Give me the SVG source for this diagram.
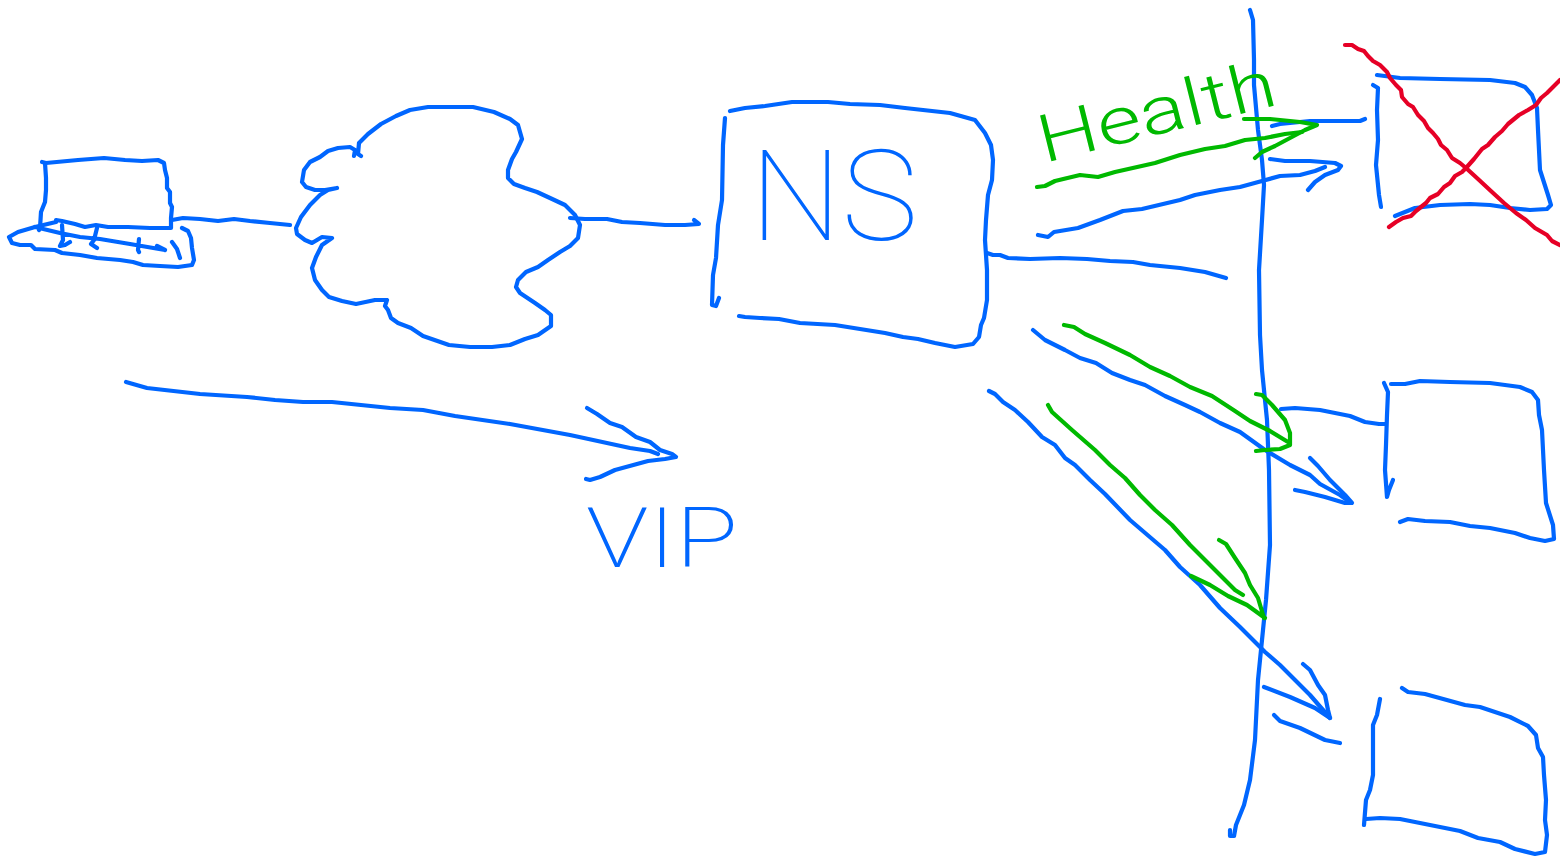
<svg xmlns="http://www.w3.org/2000/svg" width="1560" height="857" viewBox="0 0 1560 857">
<style>
path{fill:none;stroke-width:4.2;stroke-linecap:round;stroke-linejoin:round}
.b{stroke:#0066ff}.g{stroke:#00b900}.r{stroke:#e60026}
text{font-family:"Roboto","Liberation Sans",sans-serif}
</style>
<rect width="1560" height="857" fill="#fff"/>
<g id="laptop" class="b">
<path class="b" d="M42 162L46 163L78 160L104 158L125 160L142 161L158 160L164 163L165 170L167 178L167 188L170 192L170 203L172 207L171 218L171 228L150 228L128 227L108 227L96 225L85 227L75 224L62 221L56 220"/>
<path class="b" d="M45 163L46 178L46 190L45 202L41 212L40 228L39 230"/>
<path class="b" d="M56 222L35 227L18 232L9 237L12 243L20 245L31 245L35 249L55 250L62 253L80 255L97 258L120 260L133 262L143 265L160 266L178 267L192 265L194 260L192 248L191 238L188 231L182 228"/>
<path class="b" d="M35 227L60 233L80 237L100 239L130 244L165 250M62 225L63 240L60 246L65 245L70 242M97 228L94 240L91 244L97 248M139 239L138 250L139 252M157 246L165 250M172 242L177 249L180 258"/>
</g>
<g id="cloud">
<path class="b" d="M337 188L325 190L315 190L306 187L302 182L304 170L310 162L320 157L328 151L338 148L350 147L355 150L354 156M361 156L358 154L359 143L368 134L381 124L396 116L410 110L428 107L473 107L494 112L510 119L518 125L522 139L516 152L512 159L508 170L508 178L514 184L525 188L537 192L550 198L565 205L575 215L580 225L578 238L570 246L560 252L548 260L538 267L526 272L518 280L516 287L520 293L535 303L545 310L551 315L551 326L538 335L525 339L510 345L492 347L470 347L449 345L423 336L411 328L398 323L391 318L388 310L385 306L387 300L375 300L356 304L342 301L329 297L322 290L315 280L312 268L316 257L322 245L332 238L322 237L312 243L305 240L297 234L296 228L301 217L310 205L320 195L328 190L337 188"/>
</g>
<g id="ns">
<path class="b" d="M730 111L745 108L765 106L792 102L828 102L850 104L880 105L905 108L950 113L975 120L985 133L991 145L993 160L992 180L988 195L986 220L985 240L987 270L987 300L984 318L981 325L979 337L973 344L955 347L935 343L918 339L903 337L885 333L860 329L835 325L800 323L779 319L760 318L745 317L739 316"/>
<path class="b" d="M725 118L723 145L722 200L718 225L716 258L713 275L712 305L716 306L719 298"/>
<text x="750" y="240" font-size="126" font-weight="100" fill="#0066ff" textLength="168" lengthAdjust="spacingAndGlyphs">NS</text>
</g>
<g id="server-down">
<path class="b" d="M1377 75L1400 78L1440 79L1490 80L1515 83L1525 87L1532 95L1537 108L1538 130L1540 170L1548 195L1551 205L1547 209L1530 210L1510 208L1490 205L1470 204L1440 205L1415 208L1405 212L1395 216"/>
<path class="b" d="M1373 85L1378 88L1377 110L1378 140L1376 165L1379 195L1381 207"/>
<path class="r" d="M1345 45L1352 45L1358 49L1364 51L1368 56L1373 61L1380 65L1387 72L1390 78L1396 85L1401 90L1402 97L1408 104L1413 107L1418 115L1424 121L1428 128L1433 133L1438 139L1441 145L1447 150L1452 158L1460 163L1466 168L1478 179L1492 192L1504 203L1516 213L1526 220L1535 228L1547 235L1552 241L1560 245"/>
<path class="r" d="M1389 227L1396 222L1403 218L1411 216L1416 211L1426 203L1430 198L1438 194L1444 187L1450 183L1455 176L1462 172L1466 168L1474 159L1482 149L1488 145L1495 137L1502 131L1508 124L1519 115L1528 110L1536 105L1541 98L1547 93L1553 87L1560 80"/>
</g>
<g id="server-2">
<path class="b" d="M1384 383L1388 392L1387 415L1386 445L1385 470L1387 497L1389 490L1393 480"/>
<path class="b" d="M1391 384L1405 384L1420 381L1450 382L1490 383L1520 387L1532 392L1538 400L1539 415L1542 430L1544 470L1546 503L1553 525L1554 539L1545 541L1530 538L1515 533L1490 528L1470 526L1450 522L1425 521L1408 519L1400 522"/>
</g>
<g id="server-3">
<path class="b" d="M1380 699L1377 715L1373 725L1373 750L1373 775L1370 790L1366 800L1364 825"/>
<path class="b" d="M1402 688L1408 692L1425 694L1465 705L1480 707L1510 717L1528 726L1536 735L1538 748L1543 757L1544 775L1546 800L1545 820L1547 835L1545 852L1535 854L1515 849L1500 842L1478 838L1460 831L1430 825L1400 819L1380 818L1366 819"/>
</g>
<g id="connectors">
<path class="b" d="M172 220L183 218L200 219L218 221L234 219L250 221L270 223L290 225"/>
<path class="b" d="M570 218L585 219L607 219L622 222L640 223L665 225L685 225L699 224L694 220"/>
<path class="b" d="M126 382L147 388L200 394L247 397L275 400L303 402L332 402L390 408L423 410L455 416L510 424L570 435L630 448L650 451L658 454"/>
<path class="b" d="M587 408L597 414L610 423L622 427L636 437L650 442L660 450L672 454L676 457L665 459L648 461L615 470L600 477L590 480L586 479"/>
<path class="b" d="M1250 10L1253 20L1254 60L1254 85L1258 130L1262 160L1264 185L1262 220L1259 270L1260 335L1262 370L1267 420L1269 470L1270 545L1266 600L1262 640L1258 680L1255 740L1250 780L1244 805L1236 825L1234 836L1230 836L1230 830"/>
<path class="b" d="M1038 235L1048 237L1054 232L1078 228L1100 220L1123 211L1142 209L1180 200L1195 195L1220 190L1240 187L1262 181L1280 176L1300 175L1315 171L1325 167"/>
<path class="b" d="M1270 159L1285 161L1310 161L1335 163L1341 166L1338 170L1325 175L1315 182L1308 190"/>
<path class="b" d="M1272 126L1280 124L1310 121L1340 121L1360 121L1365 119"/>
<path class="b" d="M987 253L993 255L1000 255L1008 258L1030 259L1060 258L1087 259L1110 261L1133 262L1150 265L1180 268L1205 272L1226 278"/>
<path class="b" d="M1033 330L1045 340L1065 350L1080 358L1096 363L1112 373L1130 380L1145 385L1165 396L1185 405L1200 412L1220 423L1240 432L1265 450L1290 465L1310 475L1320 484L1340 495L1347 500"/>
<path class="b" d="M1310 458L1318 466L1330 480L1345 495L1352 503L1345 503L1325 497L1305 492L1295 490"/>
<path class="b" d="M1281 409L1295 408L1320 410L1350 416L1365 422L1379 424L1385 424"/>
<path class="b" d="M989 391L995 394L1003 402L1015 410L1028 422L1042 437L1055 445L1065 458L1075 465L1090 480L1105 494L1130 520L1165 550L1180 567L1200 585L1220 608L1240 627L1265 652L1280 665L1295 680L1310 695L1330 718"/>
<path class="b" d="M1303 664L1310 670L1318 685L1325 695L1328 710L1330 718L1315 708L1290 697L1264 687"/>
<path class="b" d="M1274 715L1280 721L1300 728L1325 740L1340 743"/>
<path class="g" d="M1037 187L1045 186L1055 181L1080 175L1098 177L1115 172L1155 163L1180 155L1205 149L1225 146L1245 140L1265 138L1285 134L1302 132"/>
<path class="g" d="M1244 119L1270 119L1300 122L1317 125L1305 130L1290 138L1275 146L1262 152L1255 158"/>
<path class="g" d="M1064 325L1074 327L1085 334L1105 343L1130 355L1150 367L1170 376L1190 387L1212 396L1235 411L1250 421L1270 431L1288 442"/>
<path class="g" d="M1256 394L1262 395L1272 405L1285 420L1290 433L1290 445L1280 449L1265 450L1256 451"/>
<path class="g" d="M1048 405L1052 412L1072 430L1095 450L1110 465L1125 478L1140 495L1155 510L1172 525L1190 545L1208 563L1225 580L1235 590L1243 595"/>
<path class="g" d="M1219 540L1226 544L1235 558L1245 573L1250 585L1258 598L1264 618M1191 576L1210 585L1228 596L1247 605L1265 618"/>
</g>
<text x="586" y="567" font-size="84" font-weight="200" fill="#0066ff" textLength="152" lengthAdjust="spacingAndGlyphs">VIP</text>
<text transform="translate(1044 163) rotate(-14)" font-size="66" font-weight="300" fill="#00b900" textLength="243" lengthAdjust="spacingAndGlyphs">Health</text>
</svg>
